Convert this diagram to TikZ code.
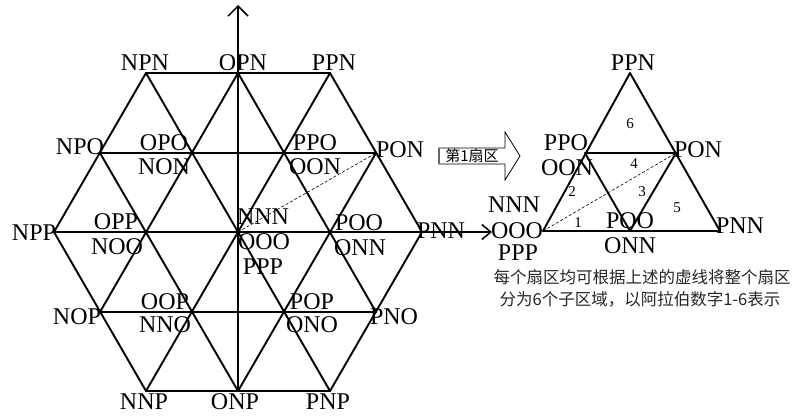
\documentclass[tikz,border=0pt]{standalone}
\usepackage{fontspec}
\setmainfont{Liberation Serif}
\newfontfamily\cjk{Noto Sans CJK SC}
\usetikzlibrary{arrows.meta}
\begin{document}
\begin{tikzpicture}[x=1pt,y=-1pt,
  grid/.style={line width=1.9pt, line join=round, line cap=round},
  axis/.style={line width=1.5pt},
  lab/.style={inner sep=0pt, font=\fontsize{24}{24}\selectfont},
  num/.style={inner sep=0pt, font=\fontsize{15}{15}\selectfont},
  dashline/.style={dash pattern=on 3pt off 2pt, line width=0.6pt},
  captext/.style={inner sep=0pt, text=black!85, font=\cjk\fontsize{16.5}{16.5}\selectfont}]
\useasboundingbox (0,0) rectangle (794,415);
% lattice vertices
\coordinate (vNPN) at (146,73);  \coordinate (vOPN) at (238,73);  \coordinate (vPPN) at (330,73);
\coordinate (vNPO) at (100,153); \coordinate (vOPO) at (192,153); \coordinate (vPPO) at (284,153); \coordinate (vPON) at (376,153);
\coordinate (vNPP) at (54,232);  \coordinate (vOPP) at (146,232); \coordinate (vO) at (238,232);   \coordinate (vPOO) at (330,232); \coordinate (vPNN) at (422,232);
\coordinate (vNOP) at (100,312); \coordinate (vOOP) at (192,312); \coordinate (vPOP) at (284,312); \coordinate (vPNO) at (376,312);
\coordinate (vNNP) at (146,391); \coordinate (vONP) at (238,391); \coordinate (vPNP) at (330,391);
% horizontal lines
\draw[grid] (vNPN) -- (vPPN);
\draw[grid] (vNPO) -- (vPON);
\draw[grid] (vNPP) -- (vPNN);
\draw[grid] (vNOP) -- (vPNO);
\draw[grid] (vNNP) -- (vPNP);
% rising lines
\draw[grid] (vNPP) -- (vNPN);
\draw[grid] (vNOP) -- (vOPN);
\draw[grid] (vNNP) -- (vPPN);
\draw[grid] (vONP) -- (vPON);
\draw[grid] (vPNP) -- (vPNN);
% falling lines
\draw[grid] (vNPP) -- (vNNP);
\draw[grid] (vNPO) -- (vONP);
\draw[grid] (vNPN) -- (vPNP);
\draw[grid] (vOPN) -- (vPNO);
\draw[grid] (vPPN) -- (vPNN);
% axes
\coordinate (ytop) at (238,5);
\coordinate (xend) at (492,232);
\draw[axis,-{Straight Barb[length=10pt,width=20pt,line width=1.5pt]}] (vONP) -- (ytop);
\draw[axis,-{Straight Barb[length=9pt,width=15pt,line width=1.5pt]}] (vNPP) -- (xend);
\draw[dashline] (vO) -- (vPON);
% labels left
\node[lab] (lNPN) at (145,63) {NPN};
\node[lab] (lOPN) at (243,63) {OPN};
\node[lab] (lPPN) at (334,63) {PPN};
\node[lab] (lNPO) at (80,147) {NPO};
\node[lab] (lOPO) at (164,143) {OPO};
\node[lab] (lNON) at (164,167) {NON};
\node[lab] (lPPO) at (315,143) {PPO};
\node[lab] (lOON) at (315,167) {OON};
\node[lab] (lPON) at (400,150) {PON};
\node[lab] (lNPP) at (34,233) {NPP};
\node[lab] (lOPP) at (116,222) {OPP};
\node[lab] (lNOO) at (117,247) {NOO};
\node[lab] (lNNN) at (263,217) {NNN};
\node[lab] (lOOO) at (264,242) {OOO};
\node[lab] (lPPP) at (263,267) {PPP};
\node[lab] (lPOO) at (359,223) {POO};
\node[lab] (lONN) at (360,248) {ONN};
\node[lab] (lPNN) at (441,231) {PNN};
\node[lab] (lNOP) at (77,317) {NOP};
\node[lab] (lOOP) at (165,302) {OOP};
\node[lab] (lNNO) at (165,325) {NNO};
\node[lab] (lPOP) at (312,302) {POP};
\node[lab] (lONO) at (312,325) {ONO};
\node[lab] (lPNO) at (394,317) {PNO};
\node[lab] (lNNP) at (144,402) {NNP};
\node[lab] (lONP) at (235,402) {ONP};
\node[lab] (lPNP) at (328,402) {PNP};
% block arrow
\coordinate (b1) at (439,148); \coordinate (b2) at (505,148); \coordinate (b3) at (505,132);
\coordinate (b4) at (520,156); \coordinate (b5) at (505,180); \coordinate (b6) at (505,164);
\coordinate (b7) at (439,164);
\draw[line width=0.8pt, line join=miter] (b1) -- (b2) -- (b3) -- (b4) -- (b5) -- (b6) -- (b7) -- cycle;
\draw[line width=1.6pt, black!60] (b1) -- (b7);
\node[inner sep=0pt, font=\cjk\fontsize{15}{15}\selectfont] (sec) at (472,156) {第1扇区};
% right triangle
\coordinate (tA) at (630,73);  \coordinate (tL) at (543,231); \coordinate (tR) at (720,231);
\coordinate (tML) at (585,153); \coordinate (tMR) at (676,153); \coordinate (tMB) at (630,231);
\draw[grid] (tA) -- (tL) -- (tR) -- cycle;
\draw[grid] (tML) -- (tMR);
\draw[grid] (tML) -- (tMB) -- (tMR);
\draw[dashline] (tL) -- (tMR);
\node[num] (n6) at (630,124) {6};
\node[num] (n4) at (634,164) {4};
\node[num] (n2) at (572,192) {2};
\node[num] (n3) at (642,192) {3};
\node[num] (n5) at (677,208) {5};
\node[num] (n1) at (578,223) {1};
\node[lab] (rPPN) at (633,63) {PPN};
\node[lab] (rPPO) at (566,143) {PPO};
\node[lab] (rOON) at (567,168) {OON};
\node[lab] (rPON) at (698,150) {PON};
\node[lab] (rNNN) at (514,205) {NNN};
\node[lab] (rOOO) at (517,231) {OOO};
\node[lab] (rPPP) at (518,253) {PPP};
\node[lab] (rPOO) at (630,221) {POO};
\node[lab] (rONN) at (630,246) {ONN};
\node[lab] (rPNN) at (740,226) {PNN};
% caption
\node[captext] (c1) at (642,277) {每个扇区均可根据上述的虚线将整个扇区};
\node[captext] (c2) at (640,299) {分为6个子区域，以阿拉伯数字1-6表示};
\end{tikzpicture}
\end{document}
